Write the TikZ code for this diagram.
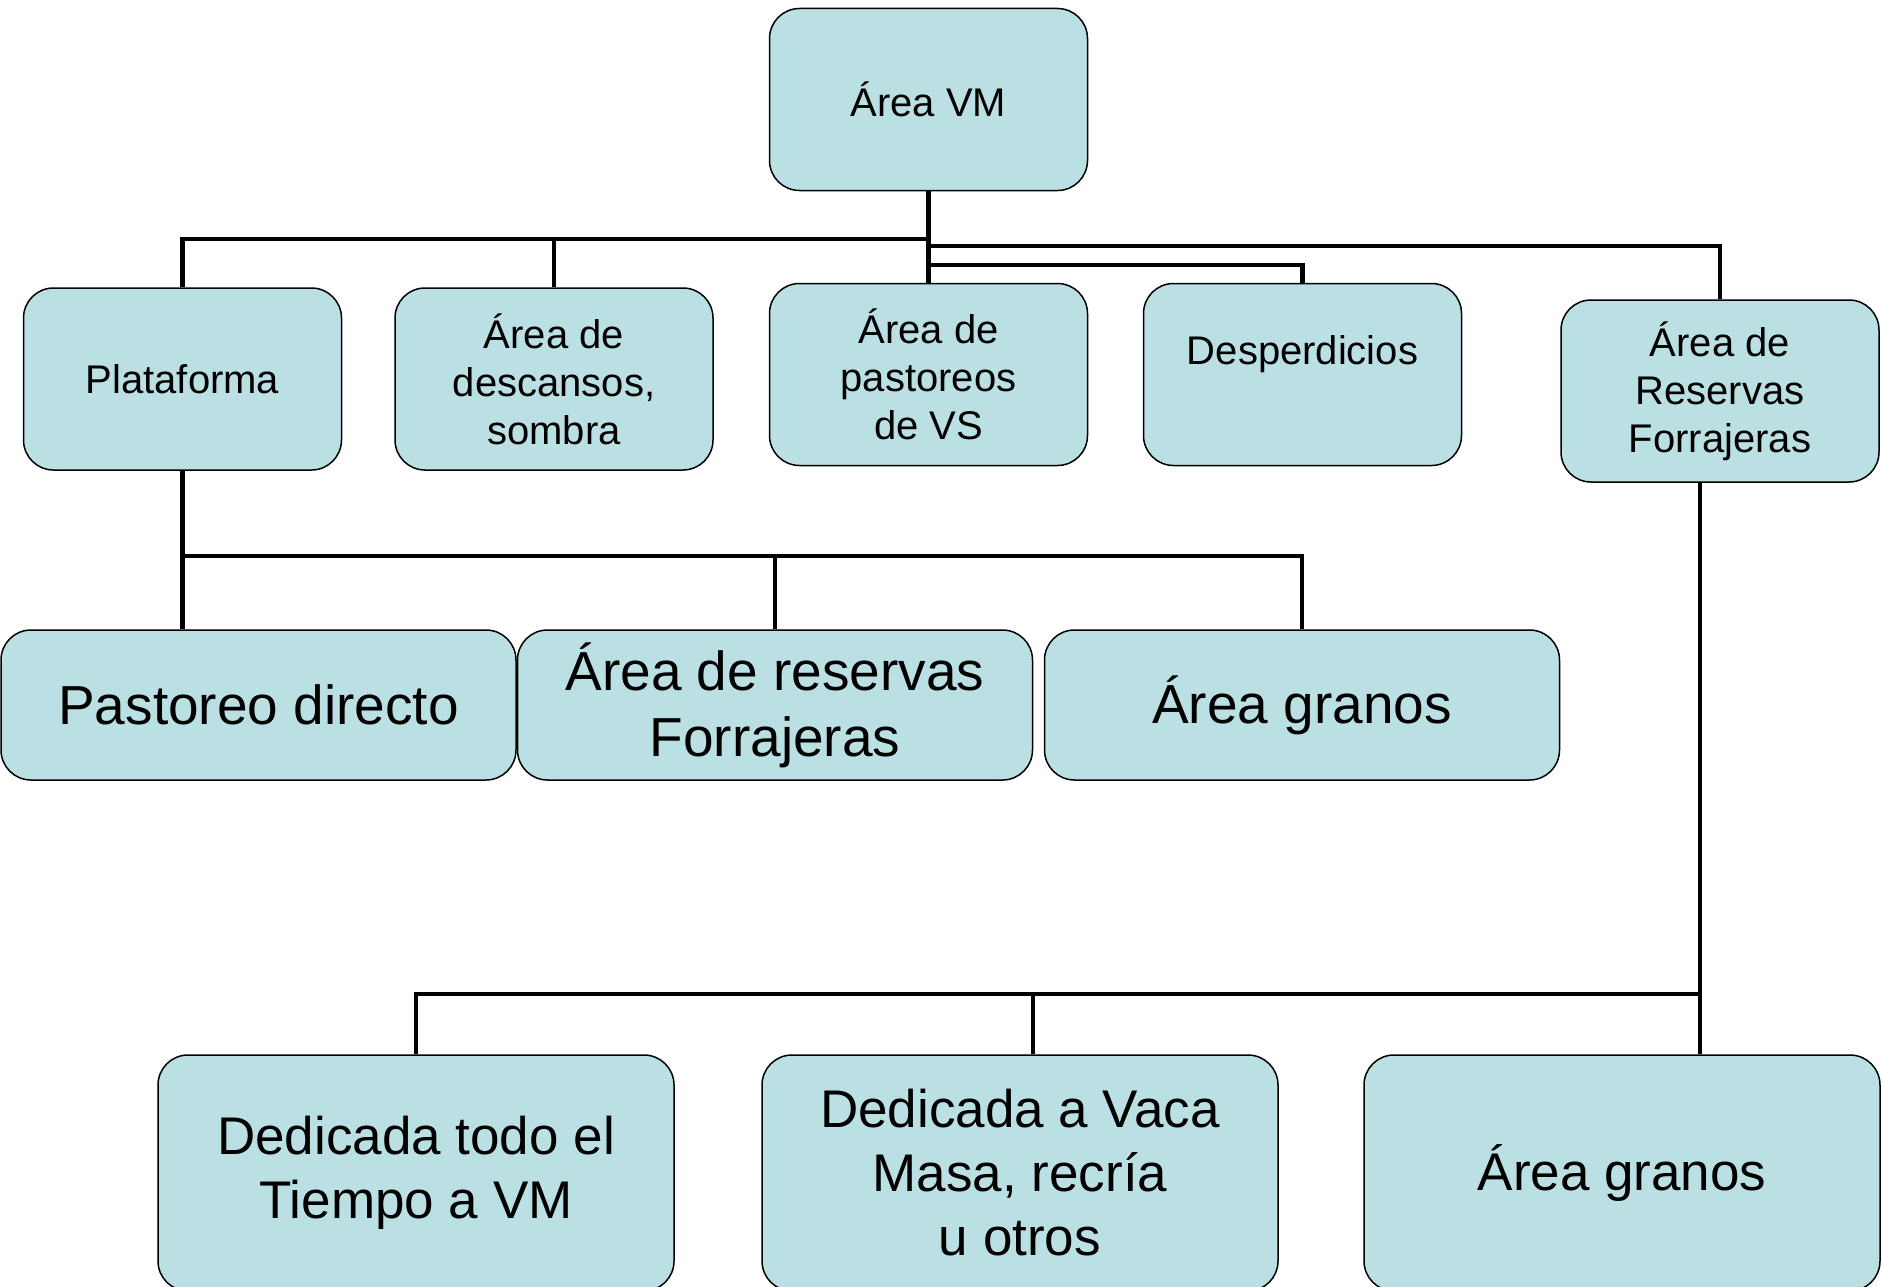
\documentclass[tikz,border=0pt]{standalone}
\usepackage{fontspec}
\setmainfont{Liberation Sans}
\definecolor{boxblue}{RGB}{187,224,227}
\tikzset{
    areabox/.style = {draw=black, fill=boxblue, line width=1.5pt, rounded corners=30pt,
        align=center, inner sep=0pt, minimum width=318pt, minimum height=182pt,
        font=\fontsize{40}{48}\selectfont},
    midbox/.style = {areabox, minimum width=515pt, minimum height=150pt,
        font=\fontsize{55}{66}\selectfont},
    lowbox/.style = {areabox, minimum width=516pt, minimum height=236pt,
        font=\fontsize{53}{64}\selectfont},
    conn/.style = {draw=black, line width=4.5pt}
}
\begin{document}
\begin{tikzpicture}[x=1pt, y=-1pt]
        \useasboundingbox (0,0) rectangle (1882,1287);
        % top level
        \node[areabox] (vm) at (928.5,99.5) {Área VM};
        % second level
        \node[areabox] (plat) at (182.5,379) {Plataforma};
        \node[areabox] (desc) at (554,379) {Área de\\descansos,\\sombra};
        \node[areabox] (past) at (928.5,374.5) {Área de\\pastoreos\\de VS};
        \node[areabox] (desp) at (1302.5,374.5) {Desperdicios\\\mbox{}};
        \node[areabox] (res) at (1720,391) {Área de\\Reservas\\Forrajeras};
        % under Plataforma
        \node[midbox] (pd) at (258.5,705) {Pastoreo directo};
        \node[midbox] (arf) at (775,705) {Área de reservas\\Forrajeras};
        \node[midbox] (ag) at (1302,705) {Área granos};
        % under Reservas
        \node[lowbox] (ded1) at (416,1173) {Dedicada todo el\\Tiempo a VM};
        \node[lowbox] (ded2) at (1020,1173) {Dedicada a Vaca\\Masa, recría\\u otros};
        \node[lowbox] (ag2) at (1622,1173) {Área granos};
        % bus lines
        \coordinate (busA) at (182,239);
        \coordinate (busB) at (930,246);
        \coordinate (busC) at (930,265);
        \coordinate (busD) at (182,556);
        \coordinate (busE) at (1700,994);
        \draw[conn] (vm.south) -- (past.north);
        \draw[conn] (plat.north) |- (vm.south |- busA);
        \draw[conn] (desc.north) -- (desc.north |- busA);
        \draw[conn] (vm.south |- busB) -| (res.north);
        \draw[conn] (vm.south |- busC) -| (desp.north);
        \draw[conn] (plat.south) -- (plat.south |- pd.north);
        \draw[conn] (plat.south |- busD) -| (ag.north);
        \draw[conn] (arf.north) -- (arf.north |- busD);
        \draw[conn] (res.south -| busE) -- (busE |- ag2.north);
        \draw[conn] (busE) -| (ded1.north);
        \draw[conn] ([xshift=13pt]ded2.north) -- ([xshift=13pt]ded2.north |- busE);
\end{tikzpicture}
\end{document}
